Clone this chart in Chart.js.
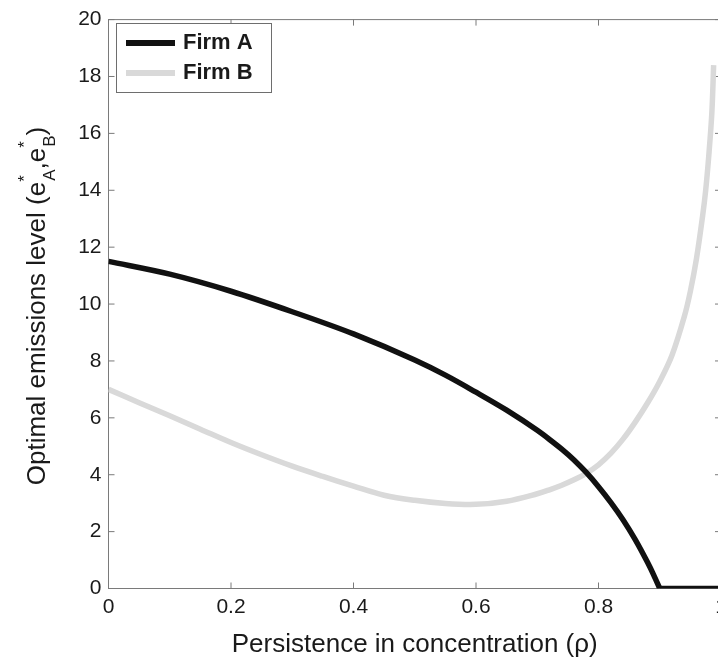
<!DOCTYPE html>
<html>
<head>
<meta charset="utf-8">
<script src="https://cdn.jsdelivr.net/npm/chart.js@4.4.1/dist/chart.umd.min.js"></script>
<style>
  html, body { margin: 0; padding: 0; background: #fff; overflow: hidden; width: 718px; height: 660px; }
  #wrap { position: absolute; left: 0; top: 0; width: 741px; height: 660px; }
  canvas { display: block; }
</style>
</head>
<body>
<div id="wrap"><canvas id="c" width="741" height="660"></canvas></div>
<script>
// ---- data ----
const seriesNames = ['Firm A', 'Firm B'];

const rhoA  = [0, 0.1, 0.2, 0.3, 0.4, 0.5, 0.55, 0.6, 0.65, 0.7, 0.72, 0.74, 0.76, 0.78, 0.8, 0.82, 0.84, 0.86, 0.88, 0.89, 0.9];
const firmA = [11.5, 11.05, 10.45, 9.73, 8.95, 8.03, 7.5, 6.9, 6.27, 5.56, 5.24, 4.9, 4.52, 4.08, 3.58, 3.03, 2.42, 1.72, 0.92, 0.48, 0];
const rhoAzero  = [0.9, 0.95, 1.0];
const firmAzero = [0, 0, 0];

const rhoB  = [0, 0.05, 0.1, 0.15, 0.2, 0.25, 0.3, 0.35, 0.4, 0.45, 0.5, 0.55, 0.6, 0.65, 0.7, 0.72, 0.74, 0.76, 0.78, 0.8, 0.82, 0.84, 0.86, 0.88, 0.9, 0.92, 0.94, 0.95, 0.96, 0.97, 0.975, 0.98, 0.985, 0.988];
const firmB = [7.0, 6.53, 6.07, 5.6, 5.13, 4.7, 4.3, 3.94, 3.6, 3.28, 3.1, 2.99, 2.96, 3.07, 3.33, 3.47, 3.63, 3.82, 4.05, 4.35, 4.75, 5.25, 5.85, 6.52, 7.28, 8.2, 9.55, 10.45, 11.6, 13.1, 14.0, 15.2, 16.7, 18.4];

const xTicks = [0, 0.2, 0.4, 0.6, 0.8, 1];
const xTickLabels = ['0', '0.2', '0.4', '0.6', '0.8', '1'];
const yTicks = [0, 2, 4, 6, 8, 10, 12, 14, 16, 18, 20];
const yTickLabels = ['0', '2', '4', '6', '8', '10', '12', '14', '16', '18', '20'];

const xTitle = 'Persistence in concentration (\u03C1)';
const yTitleMain = 'Optimal emissions level (e';

// ---- styles ----
const FONT = '"Liberation Sans", Arial, Helvetica, sans-serif';
const COLOR_A = '#111111';
const COLOR_B = '#d9d9d9';
const FRAME = '#7a7a7a';
const TEXT = '#1a1a1a';

const pts = (xs, ys) => xs.map((x, i) => ({ x: x, y: ys[i] }));

const framePlugin = {
  id: 'frame',
  beforeDatasetsDraw(chart) {
    const { ctx, chartArea: a, scales: { x, y } } = chart;
    ctx.save();
    ctx.strokeStyle = FRAME;
    ctx.lineWidth = 1;
    ctx.strokeRect(a.left, a.top, a.right - a.left, a.bottom - a.top);
    const L = 6;
    ctx.beginPath();
    xTicks.forEach(v => {
      const px = x.getPixelForValue(v);
      ctx.moveTo(px, a.bottom); ctx.lineTo(px, a.bottom - L);
      ctx.moveTo(px, a.top); ctx.lineTo(px, a.top + L);
    });
    yTicks.forEach(v => {
      const py = y.getPixelForValue(v);
      ctx.moveTo(a.left, py); ctx.lineTo(a.left + L, py);
      ctx.moveTo(a.right, py); ctx.lineTo(a.right - L, py);
    });
    ctx.stroke();
    ctx.restore();
  }
};

const yTitlePlugin = {
  id: 'ytitle',
  afterDraw(chart) {
    const { ctx, chartArea: a } = chart;
    const main = 'normal 26px ' + FONT;
    const small = 'normal 17px ' + FONT;
    const cx = 45, cy = (a.top + a.bottom) / 2 + 2;
    ctx.save();
    ctx.fillStyle = TEXT;
    ctx.textBaseline = 'alphabetic';
    ctx.textAlign = 'left';
    ctx.font = main;
    const wMain = ctx.measureText(yTitleMain).width;
    const wComma = ctx.measureText(',').width;
    const wE = ctx.measureText('e').width;
    const wParen = ctx.measureText(')').width;
    ctx.font = small;
    const wA = Math.max(ctx.measureText('A').width, ctx.measureText('*').width) + 1;
    const wB = Math.max(ctx.measureText('B').width, ctx.measureText('*').width) + 1;
    const total = wMain + wA + wComma + wE + wB + wParen;
    ctx.translate(cx, cy);
    ctx.rotate(-Math.PI / 2);
    let p = -total / 2;
    ctx.font = main;
    ctx.fillText(yTitleMain, p, 0); p += wMain;
    ctx.font = small;
    ctx.fillText('*', p, -15);
    ctx.fillText('A', p + 1, 10);
    p += wA;
    ctx.font = main;
    ctx.fillText(',', p, 0); p += wComma;
    ctx.fillText('e', p, 0); p += wE;
    ctx.font = small;
    ctx.fillText('*', p, -15);
    ctx.fillText('B', p + 1, 10);
    p += wB;
    ctx.font = main;
    ctx.fillText(')', p, 0);
    ctx.restore();
  }
};

const legendPlugin = {
  id: 'boxlegend',
  afterDraw(chart) {
    const { ctx } = chart;
    ctx.save();
    ctx.fillStyle = '#ffffff';
    ctx.fillRect(116.5, 23.5, 155, 69);
    ctx.strokeStyle = '#6e6e6e';
    ctx.lineWidth = 1;
    ctx.strokeRect(116.5, 23.5, 155, 69);
    const rows = [{ y: 43, c: COLOR_A }, { y: 73, c: COLOR_B }];
    ctx.lineCap = 'butt';
    rows.forEach((r, i) => {
      ctx.strokeStyle = r.c;
      ctx.lineWidth = 6;
      ctx.beginPath();
      ctx.moveTo(126, r.y); ctx.lineTo(175, r.y);
      ctx.stroke();
      ctx.fillStyle = TEXT;
      ctx.font = 'bold 22px ' + FONT;
      ctx.textBaseline = 'middle';
      ctx.textAlign = 'left';
      ctx.fillText(seriesNames[i], 183, r.y);
    });
    ctx.restore();
  }
};

new Chart(document.getElementById('c'), {
  type: 'line',
  data: {
    datasets: [
      { label: seriesNames[0], data: pts(rhoA, firmA), borderColor: COLOR_A, borderWidth: 5.5,
        pointRadius: 0, cubicInterpolationMode: 'monotone', fill: false, borderCapStyle: 'butt' },
      { label: seriesNames[0] + ' (zero)', data: pts(rhoAzero, firmAzero), borderColor: COLOR_A, borderWidth: 5.5,
        pointRadius: 0, tension: 0, fill: false },
      { label: seriesNames[1], data: pts(rhoB, firmB), borderColor: COLOR_B, borderWidth: 5.5,
        pointRadius: 0, tension: 0.35, fill: false, borderCapStyle: 'butt' }
    ]
  },
  options: {
    responsive: false,
    animation: false,
    devicePixelRatio: 1,
    layout: { padding: { left: 0, right: 20, top: 13.5, bottom: 0 } },
    plugins: { legend: { display: false }, tooltip: { enabled: false } },
    scales: {
      x: {
        type: 'linear', min: 0, max: 1,
        afterBuildTicks: s => { s.ticks = xTicks.map(v => ({ value: v })); },
        afterFit: s => { s.height = 71.5; },
        grid: { display: false, drawTicks: false },
        border: { display: false },
        ticks: { color: TEXT, font: { family: FONT, size: 21 }, padding: 6, maxRotation: 0,
                 callback: v => xTickLabels[xTicks.indexOf(v)] },
        title: { display: true, text: xTitle, color: TEXT, font: { family: FONT, size: 26 }, padding: { top: 0, bottom: 0 } }
      },
      y: {
        type: 'linear', min: 0, max: 20,
        afterBuildTicks: s => { s.ticks = yTicks.map(v => ({ value: v })); },
        afterFit: s => { s.width = 108.5; },
        grid: { display: false, drawTicks: false },
        border: { display: false },
        ticks: { color: TEXT, font: { family: FONT, size: 21 }, padding: 7,
                 callback: v => yTickLabels[yTicks.indexOf(v)] }
      }
    }
  },
  plugins: [framePlugin, yTitlePlugin, legendPlugin]
});
</script>
</body>
</html>
